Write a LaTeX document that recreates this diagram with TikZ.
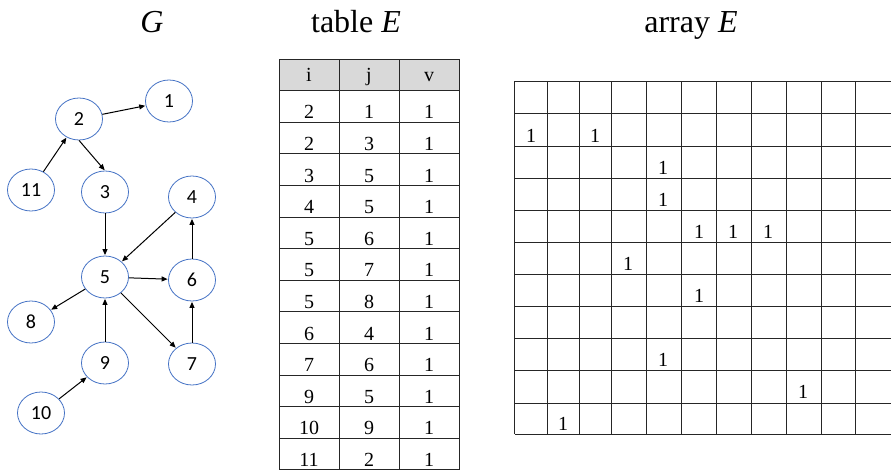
\documentclass[tikz,border=0pt]{standalone}
\usepackage{fontspec}
\setmainfont{Liberation Serif}
\newfontfamily\nodefont{Carlito}
\usetikzlibrary{arrows.meta,shapes.geometric}
\definecolor{nodeblue}{HTML}{4472C4}
\definecolor{headgray}{HTML}{D9D9D9}
\tikzset{
  vert/.style={ellipse,draw=nodeblue,line width=0.8pt,minimum width=47pt,minimum height=42pt,inner sep=0pt,font=\nodefont\fontsize{20}{22}\selectfont},
  arr/.style={-{Triangle[length=6pt,width=5pt]},line width=1pt,black,shorten >=0.5pt},
  title/.style={anchor=base,font=\fontsize{32}{36}\selectfont},
  gridline/.style={line width=0.9pt,black!85},
  tabtext/.style={anchor=base,inner sep=0pt,font=\fontsize{20}{22}\selectfont},
  arrtext/.style={anchor=base,inner sep=0pt,font=\fontsize{20}{22}\selectfont}
}
\begin{document}
\begin{tikzpicture}[x=1pt,y=-1pt]
\useasboundingbox (0,0) rectangle (891,471);
% titles
\node[title] (tG) at (152,32) {\textit{G}};
\node[title] (tT) at (356,32) {table \textit{E}};
\node[title] (tA) at (691,32) {array \textit{E}};
% graph
\node[vert] (n1) at (169,101) {1};
\node[vert] (n2) at (79,119) {2};
\node[vert] (n11) at (31,190) {11};
\node[vert] (n3) at (105,192) {3};
\node[vert] (n4) at (192,197) {4};
\node[vert] (n5) at (105,277) {5};
\node[vert] (n6) at (192,280) {6};
\node[vert] (n8) at (31,322) {8};
\node[vert] (n9) at (105,363) {9};
\node[vert] (n7) at (192,364) {7};
\node[vert] (n10) at (41,413) {10};
\draw[arr] (n2) -- (n1);
\draw[arr] (n11) -- (n2);
\draw[arr] (n2.south) -- (n3.north);
\draw[arr] (n3) -- (n5);
\draw[arr] (n4) -- (n5);
\draw[arr] (n5) -- (n6);
\draw[arr] (n6) -- (n4);
\draw[arr] (n5) -- (n7);
\draw[arr] (n7) -- (n6);
\draw[arr] (n5) -- (n8);
\draw[arr] (n9) -- (n5);
\draw[arr] (n10) -- (n9);
% table
\fill[headgray] (279,59) rectangle (459,90.6);
\foreach \k in {0,...,13} \draw[gridline] (279,59+31.6*\k) -- (459,59+31.6*\k);
\foreach \x in {279,339,399,459} \draw[gridline] (\x,59) -- (\x,469.8);
\node[tabtext] (hi) at (309,81) {i};
\node[tabtext] (hj) at (369,81) {j};
\node[tabtext] (hv) at (429,81) {v};
\foreach \i/\j [count=\r] in {2/1,2/3,3/5,4/5,5/6,5/7,5/8,6/4,7/6,9/5,10/9,11/2}{
  \node[tabtext] (ti\r) at (309,59+31.6*\r+28.2) {\i};
  \node[tabtext] (tj\r) at (369,59+31.6*\r+28.2) {\j};
  \node[tabtext] (tv\r) at (429,59+31.6*\r+28.2) {1};
}
% array
\foreach \y in {81,113,146,178,210,242,274,306,338,370,403,434} \draw[gridline] (514.5,\y) -- (891,\y);
\foreach \x in {514.5,547.5,579,611,646,681,716,751,786,821,855} \draw[gridline] (\x,81) -- (\x,434);
\foreach \x/\y [count=\c] in {531/142,595/142,663/174,663/206,699/238,733/238,768/238,628/270,699/302,663/366,803/398,563/430}
  \node[arrtext] (a\c) at (\x,\y) {1};
\end{tikzpicture}
\end{document}
